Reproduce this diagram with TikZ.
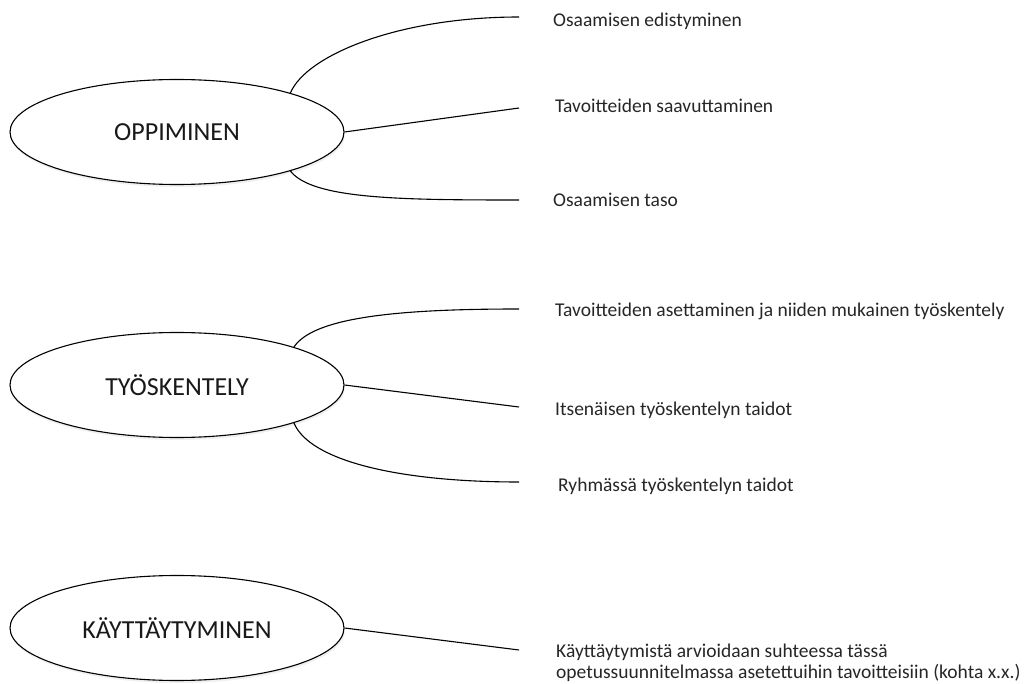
\documentclass[tikz,border=0pt]{standalone}
\usepackage{fontspec}
\setmainfont{Carlito}
\usetikzlibrary{shapes.geometric,shadows}
\begin{document}
\begin{tikzpicture}[x=1pt,y=-1pt,
  topic/.style={ellipse,draw,fill=white,line width=1.1pt,minimum width=334pt,minimum height=105pt,inner sep=0pt,
    font=\fontsize{26}{30}\selectfont,text=black!90,
    drop shadow={opacity=0.12,shadow xshift=1pt,shadow yshift=-2.5pt}},
  lbl/.style={anchor=base west,inner sep=0pt,font=\fontsize{19.5}{21}\selectfont,text=black!85},
  conn/.style={line width=1.1pt}]
\useasboundingbox (0,0) rectangle (1036,684);
% topics
\node[topic] (e1) at (177,132) {\raisebox{-3pt}{OPPIMINEN}};
\node[topic] (e2) at (177,385) {\raisebox{-3pt}{TYÖSKENTELY}};
\node[topic] (e3) at (177,628) {\raisebox{-3pt}{KÄYTTÄYTYMINEN}};
% end points
\coordinate (a1) at (519,17);
\coordinate (a2) at (519,108);
\coordinate (a3) at (519,200);
\coordinate (b1) at (519,309);
\coordinate (b2) at (519,407);
\coordinate (b3) at (519,482);
\coordinate (c1) at (519,650);
% labels
\node[lbl] (l1) at (553,27) {Osaamisen edistyminen};
\node[lbl] (l2) at (555,113) {Tavoitteiden saavuttaminen};
\node[lbl] (l3) at (553,207) {Osaamisen taso};
\node[lbl] (l4) at (555,317) {Tavoitteiden asettaminen ja niiden mukainen työskentely};
\node[lbl] (l5) at (555,416) {Itsenäisen työskentelyn taidot};
\node[lbl] (l6) at (558,491) {Ryhmässä työskentelyn taidot};
\node[lbl,align=left,anchor=north west] (l7) at (556,644) {Käyttäytymistä arvioidaan suhteessa tässä\\opetussuunnitelmassa asetettuihin tavoitteisiin (kohta x.x.)};
% connectors
\draw[conn] (e1.19) .. controls +(16,-38) and +(-120,0) .. (a1);
\draw[conn] (e1.east) -- (a2);
\draw[conn] (e1.-19) .. controls +(22,28) and +(-120,0) .. (a3);
\draw[conn] (e2.18) .. controls +(20,-30) and +(-120,0) .. (b1);
\draw[conn] (e2.east) -- (b2);
\draw[conn] (e2.-18) .. controls +(16,38) and +(-120,0) .. (b3);
\draw[conn] (e3.east) -- (c1);
\end{tikzpicture}
\end{document}
